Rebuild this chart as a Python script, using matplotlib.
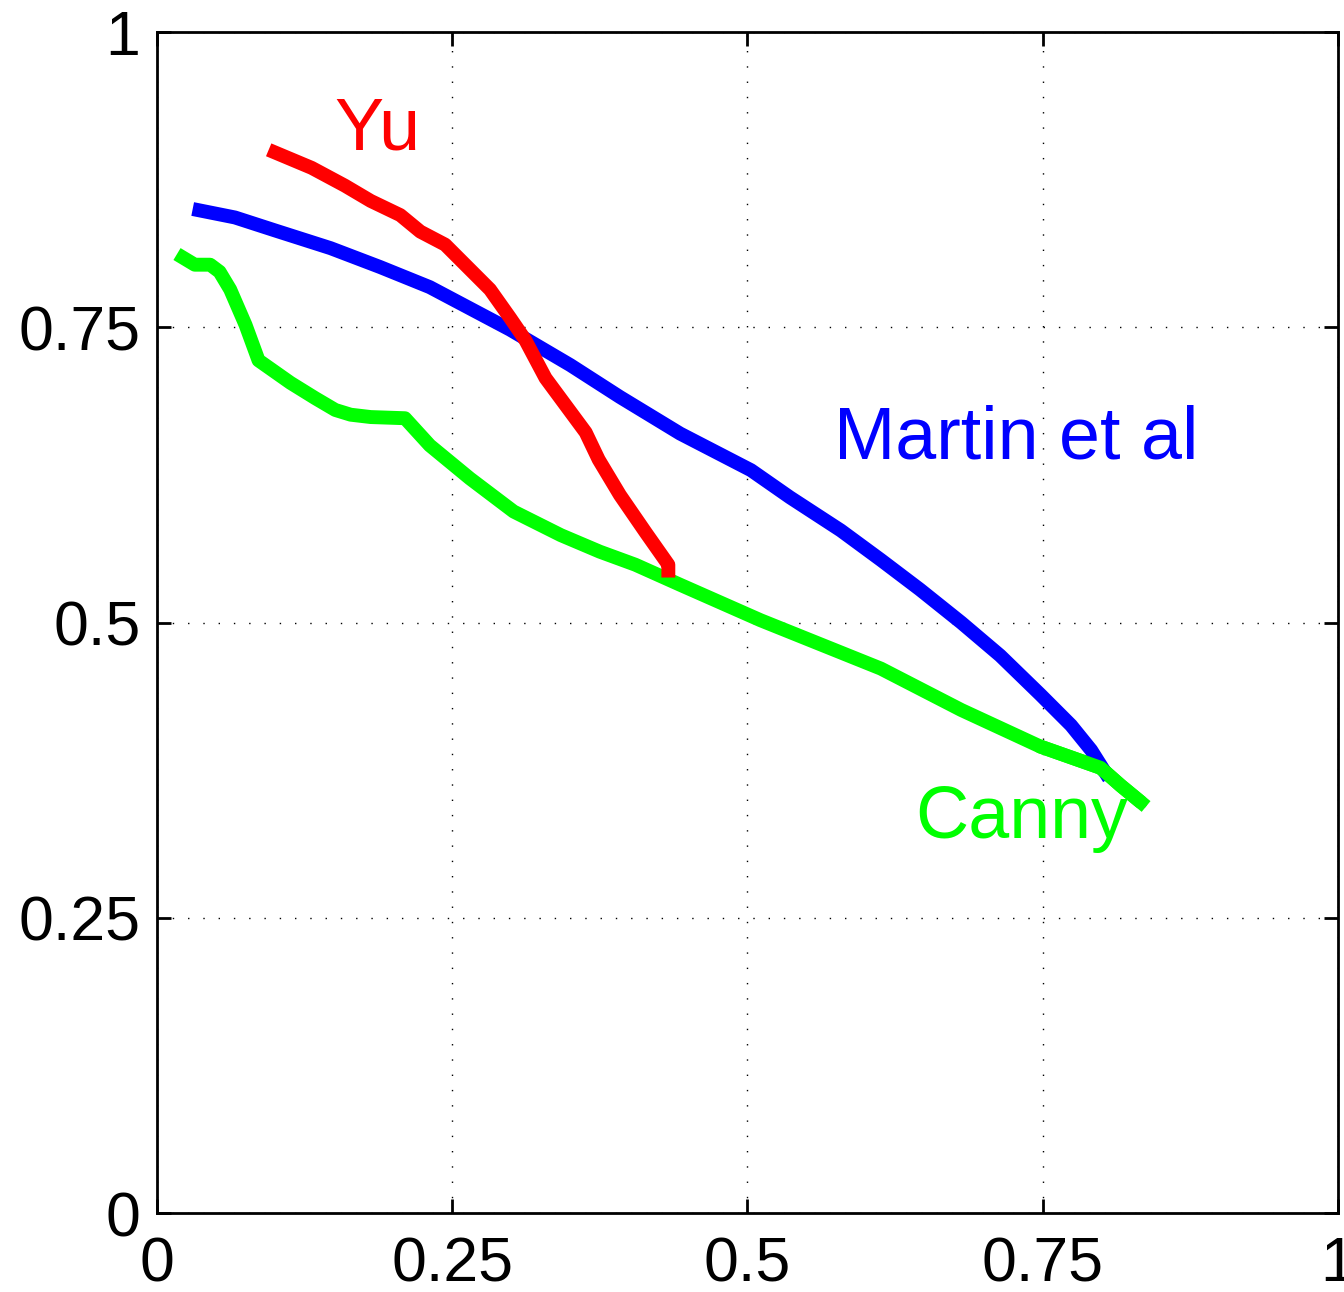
import matplotlib
matplotlib.use("Agg")
import matplotlib.pyplot as plt

plt.rcParams['font.family'] = ['Liberation Sans', 'DejaVu Sans']

# Yu (red)
yu_x = [0.100, 0.131, 0.159, 0.181, 0.206, 0.223, 0.244, 0.261, 0.282, 0.299,
        0.312, 0.329, 0.346, 0.363, 0.374, 0.392, 0.414, 0.433, 0.433]
yu_y = [0.898, 0.885, 0.870, 0.857, 0.845, 0.831, 0.820, 0.803, 0.782, 0.758,
        0.739, 0.707, 0.684, 0.661, 0.638, 0.608, 0.576, 0.549, 0.544]

# Martin et al (blue)
martin_x = [0.036, 0.066, 0.100, 0.147, 0.189, 0.231, 0.265, 0.299, 0.350, 0.392,
            0.443, 0.503, 0.536, 0.579, 0.613, 0.646, 0.681, 0.714, 0.748, 0.774,
            0.791, 0.803]
martin_y = [0.849, 0.843, 0.832, 0.817, 0.801, 0.784, 0.766, 0.748, 0.718, 0.691,
            0.660, 0.629, 0.606, 0.578, 0.553, 0.528, 0.500, 0.472, 0.439, 0.413,
            0.392, 0.373]

# Canny (green)
canny_x = [0.022, 0.032, 0.045, 0.053, 0.062, 0.075, 0.086, 0.113, 0.134, 0.151,
           0.164, 0.181, 0.210, 0.231, 0.265, 0.302, 0.342, 0.375, 0.405, 0.443,
           0.511, 0.613, 0.681, 0.748, 0.799, 0.816, 0.833]
canny_y = [0.809, 0.803, 0.803, 0.797, 0.782, 0.752, 0.722, 0.703, 0.690, 0.680,
           0.676, 0.674, 0.673, 0.650, 0.622, 0.594, 0.574, 0.560, 0.549, 0.532,
           0.502, 0.461, 0.426, 0.395, 0.377, 0.362, 0.348]

ticks = [0, 0.25, 0.5, 0.75, 1]
tick_labels = ['0', '0.25', '0.5', '0.75', '1']

fig = plt.figure(figsize=(13.44, 12.92), dpi=100)
ax = fig.add_axes([0.1168, 0.0611, 0.8787, 0.9141])

lw = 10
ax.plot(canny_x, canny_y, color='#00ff00', lw=lw, solid_joinstyle='round', zorder=2)
ax.plot(martin_x, martin_y, color='#0000ff', lw=lw, solid_joinstyle='round', zorder=3)
ax.plot(canny_x[-4:], canny_y[-4:], color='#00ff00', lw=lw, solid_joinstyle='round',
        solid_capstyle='round', zorder=4)
ax.plot(yu_x, yu_y, color='#ff0000', lw=lw, solid_joinstyle='round', zorder=5)

ax.text(0.187, 0.917, 'Yu', color='#ff0000', fontsize=53, ha='center', va='center')
ax.text(0.573, 0.655, 'Martin et al', color='#0000ff', fontsize=53, ha='left', va='center')
ax.text(0.642, 0.334, 'Canny', color='#00ff00', fontsize=53, ha='left', va='center')

ax.set_xlim(0, 1)
ax.set_ylim(0, 1)
ax.set_xticks(ticks)
ax.set_xticklabels(tick_labels)
ax.set_yticks(ticks)
ax.set_yticklabels(tick_labels)
ax.tick_params(direction='in', length=10, width=2, labelsize=45, top=True, right=True)
ax.tick_params(axis='x', pad=16)
ax.tick_params(axis='y', pad=12)
ax.grid(True, color='black', linestyle=(0, (1, 10)), linewidth=1)
for s in ax.spines.values():
    s.set_linewidth(2)

fig.savefig('out.png', dpi=100)
